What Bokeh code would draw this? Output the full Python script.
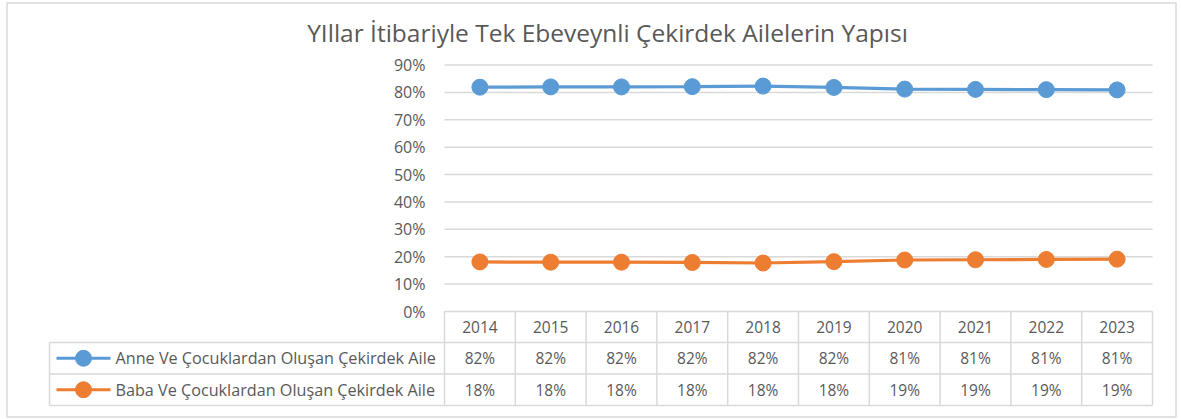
from bokeh.plotting import figure
from bokeh.models import Range1d, LinearAxis, FixedTicker, PrintfTickFormatter
from bokeh.core.properties import value
from bokeh.embed import file_html
from bokeh.resources import INLINE

# ---------------- data ----------------
years = ["2014", "2015", "2016", "2017", "2018", "2019", "2020", "2021", "2022", "2023"]
anne = [81.9, 82.0, 82.0, 82.1, 82.3, 81.8, 81.2, 81.1, 81.0, 80.9]
baba = [18.1, 18.0, 18.0, 17.9, 17.7, 18.2, 18.8, 18.9, 19.0, 19.1]
series_names = ["Anne Ve Çocuklardan Oluşan Çekirdek Aile",
                "Baba Ve Çocuklardan Oluşan Çekirdek Aile"]
series_colors = ["#5B9BD5", "#ED7D31"]
yticks = [0, 10, 20, 30, 40, 50, 60, 70, 80, 90]
title_text = "YIllar İtibariyle Tek Ebeveynli Çekirdek Ailelerin Yapısı"

# ---------------- layout (pixels in figure) ----------------
W, H = 1181, 419
COL_LEFT_PX = 444.0
COL_W_PX = 70.8
Y0_PX = 311.0
PX_PER_PCT = 2.7389

def px_to_x(px):
    return -0.5 + (px - COL_LEFT_PX) / COL_W_PX

def px_to_y(py):
    return (Y0_PX - py) / PX_PER_PCT

FONT = "Open Sans"
TXT = "#595959"
GRID = "#d9d9d9"

p = figure(width=W, height=H, output_backend="svg", toolbar_location=None,
           x_range=Range1d(px_to_x(0), px_to_x(W)),
           y_range=Range1d(px_to_y(H), px_to_y(0)),
           x_axis_location=None, y_axis_location=None,
           min_border=0, min_border_left=0, min_border_right=0,
           min_border_top=0, min_border_bottom=0)
p.xgrid.visible = False
p.ygrid.visible = False
p.outline_line_color = None
p.background_fill_color = "white"
p.border_fill_color = "white"

n = len(years)
xs = list(range(n))

# outer chart border
bx0, bx1 = px_to_x(6.5), px_to_x(1175.5)
by0, by1 = px_to_y(2.5), px_to_y(416.5)
p.quad(left=[bx0], right=[bx1], bottom=[by1], top=[by0],
       fill_color=None, line_color=GRID, line_width=1.5)

# y axis placed at the left edge of the category area
yax = LinearAxis(fixed_location=-0.5, ticker=FixedTicker(ticks=yticks),
                 formatter=PrintfTickFormatter(format="%d%%"))
yax.axis_line_color = None
yax.major_tick_line_color = None
yax.minor_tick_line_color = None
yax.major_tick_out = 0
yax.major_tick_in = 0
yax.major_label_standoff = 19
yax.major_label_text_font = FONT
yax.major_label_text_font_size = "16px"
yax.major_label_text_color = TXT
p.add_layout(yax, "left")

# gridlines
gt = [t for t in yticks if t > 0]
p.segment(x0=[-0.5] * len(gt), x1=[n - 0.5] * len(gt), y0=gt, y1=gt,
          line_color=GRID, line_width=1.5)

# series
for vals, col in zip([anne, baba], series_colors):
    p.line(xs, vals, line_color=col, line_width=3.2)
    p.scatter(xs, vals, size=16, fill_color=col, line_color=col)

# title
p.text(x=[px_to_x(607)], y=[px_to_y(32)], text=[title_text],
       text_font=value(FONT), text_font_size="24.5px", text_color=TXT,
       text_align="center", text_baseline="middle")

# ---------------- data table ----------------
row_top = [px_to_y(311), px_to_y(342), px_to_y(373.5), px_to_y(405)]
leg_left = px_to_x(49)
right = n - 0.5
p.segment(x0=[-0.5, leg_left, leg_left, leg_left], x1=[right] * 4,
          y0=row_top, y1=row_top, line_color=GRID, line_width=1.5)
vx = [i - 0.5 for i in range(n + 1)]
p.segment(x0=vx, x1=vx, y0=[row_top[0]] * len(vx), y1=[row_top[3]] * len(vx),
          line_color=GRID, line_width=1.5)
p.segment(x0=[leg_left], x1=[leg_left], y0=[row_top[1]], y1=[row_top[3]],
          line_color=GRID, line_width=1.5)

hdr_y = (row_top[0] + row_top[1]) / 2
r1_y = (row_top[1] + row_top[2]) / 2
r2_y = (row_top[2] + row_top[3]) / 2

p.text(x=xs, y=[hdr_y] * n, text=years, text_font=value(FONT), text_font_size="15.5px",
       text_color=TXT, text_align="center", text_baseline="middle")
for vals, ry in zip([anne, baba], [r1_y, r2_y]):
    p.text(x=xs, y=[ry] * n, text=[f"{round(v):d}%" for v in vals],
           text_font=value(FONT), text_font_size="15.5px",
           text_color=TXT, text_align="center", text_baseline="middle")

# legend keys inside the table
for name, col, ry in zip(series_names, series_colors, [r1_y, r2_y]):
    p.line([px_to_x(56), px_to_x(110)], [ry, ry], line_color=col, line_width=3.2)
    p.scatter([px_to_x(83)], [ry], size=16, fill_color=col, line_color=col)
    p.text(x=[px_to_x(115)], y=[ry], text=[name], text_font=value(FONT),
           text_font_size="16.2px", text_color=TXT, text_align="left",
           text_baseline="middle")

open("out.html", "w").write(file_html(p, INLINE))
